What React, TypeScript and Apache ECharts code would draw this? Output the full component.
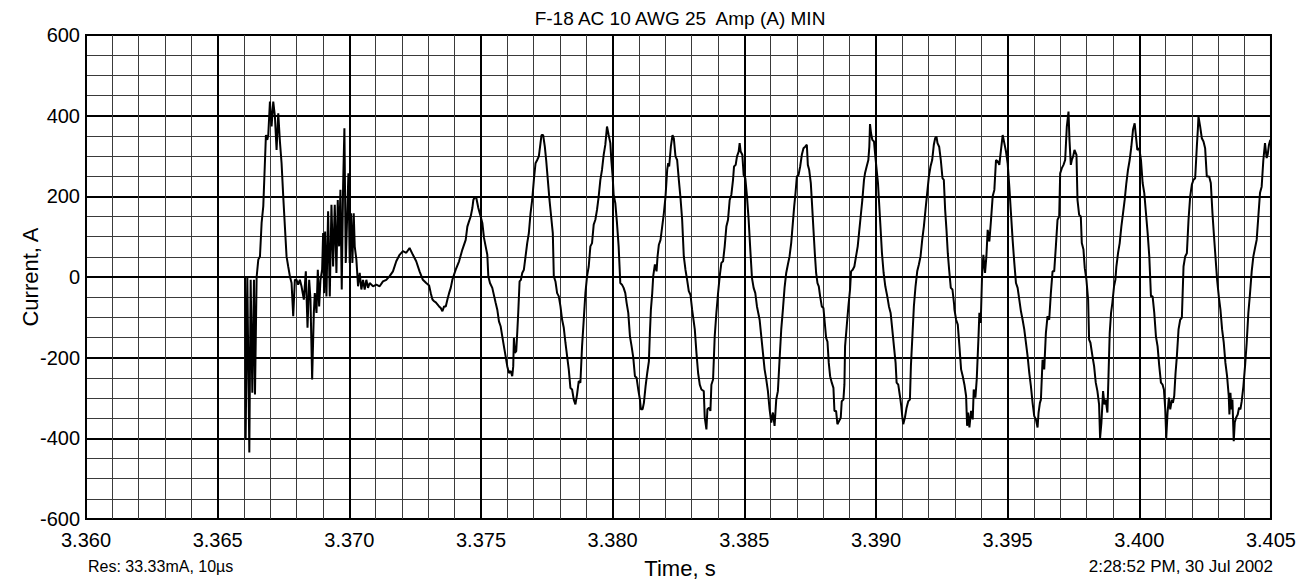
import React, { useEffect, useRef } from "react";
import * as echarts from "echarts";

// Current (A) vs time (s)
const transient: [number, number][] = [
  [3.366038, 0], [3.366063, -403], [3.366126, 0], [3.366202, -435], [3.366253, -7], [3.366316, -287], [3.366379, -7], [3.366417, -291], [3.36648, 0], [3.366543, 43],
  [3.366606, 51], [3.366669, 134], [3.366732, 175], [3.36677, 241], [3.366833, 352], [3.366884, 340], [3.366922, 352], [3.366985, 435], [3.367048, 373], [3.367111, 435],
  [3.367174, 398], [3.367237, 315], [3.367301, 406], [3.367364, 336], [3.367427, 282], [3.36749, 200], [3.367553, 125], [3.367616, 51], [3.367679, 26], [3.367742, 2],
  [3.367806, -15], [3.367869, -97], [3.367932, -7], [3.367995, -7], [3.368058, -19], [3.368121, -7], [3.368184, -23], [3.368273, -56], [3.368348, 14], [3.368412, -126],
  [3.368475, -7], [3.368525, -56], [3.368588, -254], [3.368652, -89], [3.368689, -40], [3.368753, -89], [3.368803, 18], [3.368854, -73], [3.368904, -7], [3.368967, 18],
  [3.369005, 109], [3.369043, -40], [3.369081, 113], [3.369131, -48], [3.369194, 163], [3.369258, -48], [3.369321, 179], [3.369384, 26], [3.369447, 179], [3.36951, 10],
  [3.369561, 191], [3.369611, 76], [3.369662, 216], [3.369712, -31], [3.369763, 224], [3.369813, 369], [3.369864, 35], [3.369914, 142], [3.369965, 257], [3.370015, 35],
  [3.370066, 158], [3.370116, 35], [3.370167, 158], [3.370205, 76], [3.370268, 43], [3.370331, -23], [3.370394, 10], [3.370457, -31], [3.37052, -7], [3.370583, -31],
  [3.370646, -7], [3.37071, -27], [3.370773, -15], [3.370899, -23], [3.371025, -19], [3.371152, -23], [3.371278, -11], [3.371404, -7], [3.37153, 2], [3.371657, 14],
  [3.371783, 39], [3.371909, 55], [3.372035, 64], [3.372162, 60], [3.372288, 72], [3.372414, 55], [3.37254, 39], [3.372667, 14], [3.372793, -7], [3.372919, -15],
];

const cyclesA: [number, number][] = [
  [3.37303, -21], [3.373093, -40], [3.373157, -56], [3.37322, -60], [3.373283, -63], [3.373346, -68], [3.373409, -73], [3.373472, -77], [3.373535, -85], [3.373598, -73],
  [3.373662, -73], [3.373725, -56], [3.373788, -40], [3.373851, -27], [3.373914, -7], [3.373977, 6], [3.37404, 18], [3.374167, 39], [3.374293, 68], [3.374419, 92],
  [3.374482, 125], [3.374545, 138], [3.374609, 150], [3.374672, 171], [3.37471, 191], [3.37476, 198], [3.374823, 196], [3.374899, 171], [3.374987, 150], [3.375051, 134],
  [3.375114, 97], [3.375177, 76], [3.37524, 55], [3.375278, 2], [3.375341, -15], [3.375429, -27], [3.375556, -64], [3.375619, -81], [3.375682, -110], [3.375745, -122],
  [3.375808, -147], [3.375871, -172], [3.375934, -196], [3.375997, -221], [3.376061, -238], [3.376124, -233], [3.376187, -246], [3.376225, -221], [3.37625, -151], [3.376288, -188],
  [3.376338, -184], [3.376376, -139], [3.376414, -89], [3.376465, -11], [3.376515, -7], [3.376566, 10], [3.376629, 18], [3.376692, 51], [3.376755, 84], [3.376818, 109],
  [3.376881, 158], [3.376944, 191], [3.377008, 241], [3.377071, 282], [3.377134, 290], [3.377197, 299], [3.37726, 332], [3.377298, 352], [3.377361, 352], [3.377424, 323],
  [3.377475, 290], [3.377538, 241], [3.377601, 191], [3.377664, 150], [3.377727, 109], [3.377765, 2], [3.377828, -11], [3.377891, -40], [3.377955, -48], [3.378018, -73],
  [3.378081, -106], [3.378144, -126], [3.378207, -163], [3.37827, -196], [3.378333, -229], [3.378396, -275], [3.37846, -279], [3.378523, -304], [3.378586, -316], [3.378649, -291],
  [3.378712, -258], [3.378775, -262], [3.378838, -172], [3.378902, -106], [3.378965, -40], [3.379028, 2], [3.379091, 26], [3.379154, 76], [3.379217, 84], [3.37928, 130],
  [3.379343, 142], [3.379407, 167], [3.37947, 200], [3.379533, 241], [3.379596, 266], [3.379659, 303], [3.379722, 328], [3.379785, 373], [3.379848, 352], [3.379912, 332],
  [3.379949, 290], [3.38, 249], [3.380038, 204], [3.380101, 183], [3.380164, 134], [3.380227, 76], [3.38029, -15], [3.380354, -19], [3.380417, -27], [3.38048, -40],
];

const cyclesB: [number, number][] = [
  [3.38053, -64], [3.380593, -89], [3.380657, -147], [3.38072, -172], [3.380783, -200], [3.380846, -246], [3.380909, -250], [3.380972, -279], [3.381035, -304], [3.381073, -328],
  [3.381136, -328], [3.381187, -312], [3.38125, -271], [3.381313, -238], [3.381376, -209], [3.381414, -139], [3.381452, -81], [3.381503, -40], [3.38154, 2], [3.381604, 31],
  [3.381667, 14], [3.381705, 51], [3.381755, 80], [3.381818, 92], [3.381881, 125], [3.381944, 158], [3.382008, 200], [3.382071, 266], [3.382109, 282], [3.382146, 274],
  [3.38221, 323], [3.382273, 352], [3.382323, 344], [3.382386, 299], [3.382449, 290], [3.382513, 241], [3.382576, 196], [3.382639, 142], [3.382702, 51], [3.382765, 18],
  [3.382828, -7], [3.382891, -35], [3.382955, -44], [3.383018, -81], [3.383119, -130], [3.383182, -188], [3.383245, -238], [3.383308, -267], [3.383371, -279], [3.38346, -283],
  [3.383497, -348], [3.383561, -378], [3.383598, -328], [3.383662, -324], [3.383712, -332], [3.38375, -267], [3.383813, -254], [3.383876, -147], [3.383939, -89], [3.384003, -40],
  [3.384066, 2], [3.384129, 35], [3.384192, 39], [3.384255, 76], [3.384318, 125], [3.384381, 142], [3.384444, 191], [3.384508, 204], [3.384571, 241], [3.384609, 274],
  [3.384672, 278], [3.384722, 299], [3.384785, 311], [3.384823, 332], [3.384861, 311], [3.384924, 303], [3.384975, 253], [3.385038, 245], [3.385101, 200], [3.385164, 142],
  [3.385227, 68], [3.38529, -2], [3.385354, -27], [3.385417, -40], [3.38548, -73], [3.385581, -106], [3.385644, -147], [3.385707, -188], [3.38577, -229], [3.385833, -254],
  [3.385896, -283], [3.38596, -328], [3.386023, -361], [3.386086, -336], [3.386149, -369], [3.386212, -304], [3.386275, -283], [3.386338, -205], [3.386402, -130], [3.386465, -81],
  [3.386528, -27], [3.386591, 10], [3.386654, 31], [3.386717, 51],
];

const cyclesC: [number, number][] = [
  [3.38678, 84], [3.386843, 134], [3.386894, 175], [3.386944, 208], [3.386995, 249], [3.387058, 253], [3.387121, 274], [3.387184, 303], [3.387247, 319], [3.387311, 323],
  [3.387374, 328], [3.387412, 278], [3.387462, 266], [3.387525, 233], [3.387576, 175], [3.387626, 117], [3.387677, 59], [3.387727, 10], [3.387778, -15], [3.387828, -23],
  [3.387879, -48], [3.387942, -73], [3.388005, -77], [3.388056, -114], [3.388106, -151], [3.388157, -160], [3.388207, -213], [3.388258, -246], [3.388321, -262], [3.388384, -275],
  [3.388422, -332], [3.388485, -332], [3.388535, -365], [3.388598, -357], [3.388662, -349], [3.388699, -308], [3.388763, -304], [3.388801, -267], [3.388826, -172], [3.388889, -122],
  [3.388952, -73], [3.389015, -31], [3.389053, 14], [3.389116, 18], [3.389179, 26], [3.389242, 51], [3.389306, 76], [3.389356, 109], [3.389419, 150], [3.389482, 191],
  [3.389545, 241], [3.389583, 257], [3.389646, 274], [3.38971, 290], [3.389747, 323], [3.389773, 379], [3.389811, 357], [3.389861, 340], [3.389924, 336], [3.389975, 299],
  [3.390025, 266], [3.390076, 233], [3.390126, 175], [3.390177, 117], [3.390227, 59], [3.39029, 10], [3.390354, -23], [3.390429, -48], [3.390492, -73], [3.390556, -89],
  [3.390619, -130], [3.390682, -172], [3.390745, -213], [3.390783, -262], [3.390846, -267], [3.390909, -295], [3.39096, -320], [3.390997, -345], [3.391035, -365], [3.391098, -349],
  [3.391162, -324], [3.391225, -308], [3.391288, -304], [3.391326, -221], [3.391389, -139], [3.391439, -73], [3.391502, -23], [3.391566, 14], [3.391629, 31], [3.391692, 51],
  [3.391755, 92], [3.391818, 125], [3.391881, 167], [3.391944, 208], [3.392008, 249], [3.392071, 274], [3.392134, 290], [3.392197, 328], [3.392247, 344], [3.392298, 348],
  [3.392336, 332], [3.392399, 323], [3.392462, 290], [3.392525, 245], [3.392576, 241], [3.392626, 167], [3.392677, 117], [3.392727, 59], [3.392778, 18], [3.392841, -27],
  [3.392904, -31], [3.392967, -68],
];

const cyclesD: [number, number][] = [
  [3.39298, -81], [3.393043, -106], [3.393106, -118], [3.393169, -172], [3.393232, -229], [3.393295, -246], [3.393359, -267], [3.393422, -295], [3.39346, -369], [3.393497, -336],
  [3.393548, -373], [3.393611, -332], [3.393674, -353], [3.393712, -279], [3.393775, -299], [3.393826, -254], [3.393889, -155], [3.393927, -89], [3.393977, -114], [3.394028, 2],
  [3.394078, 55], [3.394141, 10], [3.394192, 51], [3.394242, 117], [3.394306, 88], [3.394369, 142], [3.394432, 200], [3.394495, 216], [3.394558, 290], [3.394621, 287],
  [3.394684, 278], [3.394747, 315], [3.394811, 352], [3.394874, 332], [3.394937, 311], [3.395, 282], [3.395063, 224], [3.395126, 158], [3.395189, 92], [3.395253, 35],
  [3.395316, -15], [3.395379, -27], [3.395442, -56], [3.395505, -85], [3.395568, -106], [3.395631, -130], [3.395694, -163], [3.395758, -196], [3.395821, -238], [3.395884, -271],
  [3.395947, -312], [3.39601, -345], [3.396073, -353], [3.396136, -373], [3.396174, -336], [3.396225, -312], [3.396263, -304], [3.396326, -205], [3.396389, -229], [3.396452, -139],
  [3.396515, -97], [3.396578, -106], [3.396641, -40], [3.396705, 14], [3.396768, 14], [3.396831, 76], [3.396894, 142], [3.396957, 150], [3.396995, 257], [3.397058, 270],
  [3.397121, 278], [3.397184, 290], [3.397247, 373], [3.397311, 410], [3.397348, 340], [3.397399, 278], [3.397437, 290], [3.397487, 299], [3.397538, 315], [3.397614, 303],
  [3.397652, 191], [3.397715, 154], [3.397778, 150], [3.397816, 84], [3.397879, 68], [3.397929, 22], [3.397992, -7], [3.398056, -56], [3.398093, -155], [3.398144, -163],
  [3.39822, -196], [3.398283, -221], [3.398346, -262], [3.398409, -283], [3.398472, -316], [3.39851, -399], [3.398561, -361], [3.398624, -283], [3.398674, -316], [3.398725, -304],
  [3.398788, -336], [3.398826, -254], [3.398876, -139], [3.398927, -89], [3.398977, -64], [3.39904, -23],
];

const cyclesE: [number, number][] = [
  [3.399091, -7], [3.399129, 26], [3.399192, 59], [3.399255, 84], [3.399318, 125], [3.399381, 158], [3.399444, 191], [3.399508, 233], [3.399571, 266], [3.399634, 290],
  [3.399697, 323], [3.39976, 365], [3.399823, 381], [3.399874, 348], [3.399924, 315], [3.4, 319], [3.400063, 290], [3.400126, 233], [3.400189, 208], [3.400253, 158],
  [3.400316, 109], [3.400379, 51], [3.400442, -48], [3.400505, -48], [3.400568, -89], [3.400631, -147], [3.400694, -172], [3.400758, -221], [3.400821, -262], [3.400884, -267],
  [3.400934, -279], [3.400985, -328], [3.401023, -399], [3.401073, -336], [3.401124, -299], [3.401174, -328], [3.401237, -304], [3.401275, -312], [3.401326, -295], [3.401376, -238],
  [3.401427, -196], [3.40149, -130], [3.401553, -106], [3.401616, -101], [3.401679, 26], [3.401742, 51], [3.401806, 59], [3.401869, 142], [3.401932, 200], [3.401995, 229],
  [3.402058, 241], [3.402121, 245], [3.402184, 323], [3.402222, 365], [3.402247, 398], [3.402311, 373], [3.402374, 344], [3.402437, 336], [3.4025, 319], [3.402563, 249],
  [3.402652, 249], [3.402715, 233], [3.402778, 158], [3.402828, 109], [3.402891, 51], [3.402955, -7], [3.403018, -48], [3.403081, -81], [3.403144, -130], [3.403207, -163],
  [3.40327, -213], [3.403333, -246], [3.403396, -295], [3.403422, -341], [3.40346, -287], [3.403497, -328], [3.403535, -304], [3.403586, -407], [3.403624, -361], [3.403674, -349],
  [3.403737, -341], [3.403788, -324], [3.403838, -328], [3.403889, -308], [3.403952, -271], [3.404015, -221], [3.404078, -163], [3.404141, -89], [3.404205, -40], [3.404268, 14],
  [3.404331, 51], [3.404394, 72], [3.404457, 92], [3.40452, 150], [3.404583, 208], [3.404646, 224], [3.40471, 290], [3.404773, 332], [3.404836, 295], [3.404874, 303],
  [3.404924, 328], [3.404975, 340],
];

const titleText = "F-18 AC 10 AWG 25  Amp (A) MIN";
const xName = "Time, s";
const yName = "Current, A";
const resText = "Res: 33.33mA, 10\u00b5s";
const dateText = "2:28:52 PM, 30 Jul 2002";

const FONT = "'Liberation Sans', Arial, Helvetica, sans-serif";

export default function App() {
  const ref = useRef<HTMLDivElement>(null);

  useEffect(() => {
    document.body.style.margin = "0";
    if (!ref.current) return;
    const chart = echarts.init(ref.current, undefined, { renderer: "svg" });
    const data = [...transient, ...cyclesA, ...cyclesB, ...cyclesC, ...cyclesD, ...cyclesE];
    chart.setOption({
      animation: false,
      backgroundColor: "#fff",
      grid: {
        left: 86,
        right: 25,
        top: 35,
        bottom: 60,
        show: true,
        borderColor: "#000",
        borderWidth: 2,
        containLabel: false,
      },
      xAxis: {
        type: "value",
        min: 3.36,
        max: 3.405,
        interval: 0.005,
        axisLine: { show: true, lineStyle: { color: "#000", width: 2 } },
        axisTick: { show: false },
        axisLabel: {
          color: "#000",
          fontSize: 20,
          fontFamily: FONT,
          margin: 11,
          formatter: (v: number) => v.toFixed(3),
        },
        splitLine: { show: true, lineStyle: { color: "#000", width: 2 } },
        minorTick: { show: false, splitNumber: 5 },
        minorSplitLine: { show: true, lineStyle: { color: "#3a3a3a", width: 1 } },
      },
      yAxis: {
        type: "value",
        min: -600,
        max: 600,
        interval: 200,
        axisLine: { show: true, lineStyle: { color: "#000", width: 2 } },
        axisTick: { show: false },
        axisLabel: {
          color: "#000",
          fontSize: 20,
          fontFamily: FONT,
          margin: 6,
        },
        splitLine: { show: true, lineStyle: { color: "#000", width: 2 } },
        minorTick: { show: false, splitNumber: 4 },
        minorSplitLine: { show: true, lineStyle: { color: "#3a3a3a", width: 1 } },
      },
      series: [
        {
          type: "line",
          data,
          showSymbol: false,
          symbol: "none",
          lineStyle: { color: "#000", width: 2 },
          z: 5,
        },
      ],
      graphic: [
        {
          type: "text",
          x: 680,
          y: 18,
          style: {
            text: titleText,
            fill: "#000",
            font: `19px ${FONT}`,
            textAlign: "center",
            textVerticalAlign: "middle",
          },
        },
        {
          type: "text",
          x: 30,
          y: 277,
          rotation: Math.PI / 2,
          style: {
            text: yName,
            fill: "#000",
            font: `22px ${FONT}`,
            textAlign: "center",
            textVerticalAlign: "middle",
          },
        },
        {
          type: "text",
          x: 680,
          y: 568,
          style: {
            text: xName,
            fill: "#000",
            font: `22px ${FONT}`,
            textAlign: "center",
            textVerticalAlign: "middle",
          },
        },
        {
          type: "text",
          x: 88,
          y: 566,
          style: {
            text: resText,
            fill: "#000",
            font: `16px ${FONT}`,
            textAlign: "left",
            textVerticalAlign: "middle",
          },
        },
        {
          type: "text",
          x: 1273,
          y: 566,
          style: {
            text: dateText,
            fill: "#000",
            font: `17px ${FONT}`,
            textAlign: "right",
            textVerticalAlign: "middle",
          },
        },
      ],
    });
    return () => chart.dispose();
  }, []);

  return (
    <div
      ref={ref}
      style={{ position: "absolute", left: 0, top: 0, width: 1299, height: 579 }}
    />
  );
}
